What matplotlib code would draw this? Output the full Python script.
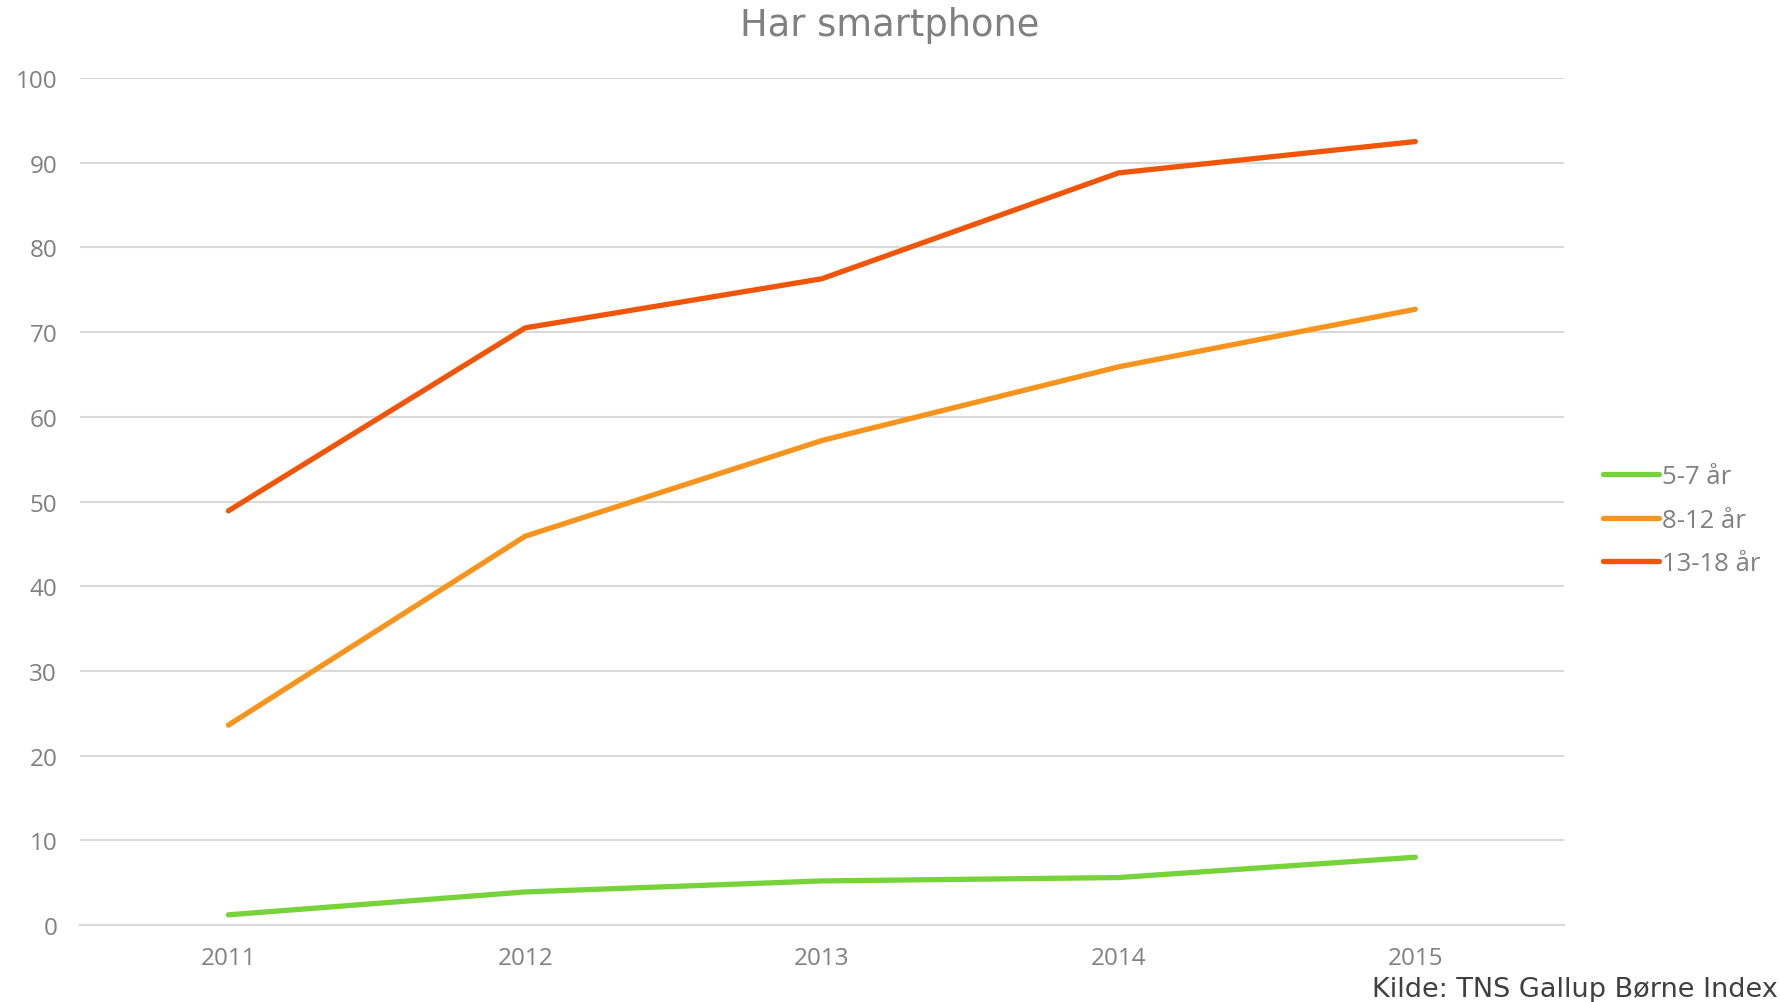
import matplotlib
matplotlib.use("Agg")
import matplotlib.pyplot as plt

years = ["2011", "2012", "2013", "2014", "2015"]
series_names = ["5-7 år", "8-12 år", "13-18 år"]
v_5_7 = [1.2, 3.9, 5.2, 5.6, 8.0]
v_8_12 = [23.6, 45.9, 57.2, 65.9, 72.7]
v_13_18 = [48.9, 70.5, 76.3, 88.8, 92.5]
colors = ["#77D33A", "#F7941D", "#F0560A"]
yticks = [0, 10, 20, 30, 40, 50, 60, 70, 80, 90, 100]

fig = plt.figure(figsize=(17.8, 10.03), dpi=100)
ax = fig.add_axes([0.045, 0.0768, 0.8335, 0.8444])

x = list(range(len(years)))
for vals, name, c in zip([v_5_7, v_8_12, v_13_18], series_names, colors):
    ax.plot(x, vals, color=c, lw=3.8, solid_capstyle="round", solid_joinstyle="round", label=name)

ax.set_xlim(-0.5, len(years) - 0.5)
ax.set_ylim(0, 100)
ax.set_yticks(yticks)
ax.set_xticks(x)
ax.set_xticklabels(years)
ax.grid(axis="y", color="#D9D9D9", lw=1.5)
ax.set_axisbelow(True)
for s in ["top", "right", "left"]:
    ax.spines[s].set_visible(False)
ax.spines["bottom"].set_color("#D9D9D9")
ax.spines["bottom"].set_linewidth(1.5)
ax.tick_params(length=0, labelsize=17.5, labelcolor="#808080")
for lab in ax.get_xticklabels() + ax.get_yticklabels():
    lab.set_family("Open Sans")
ax.tick_params(axis="y", pad=16.5)
ax.tick_params(axis="x", pad=15)

fig.text(0.5, 0.964, "Har smartphone", ha="center", va="baseline", fontsize=26.5,
         color="#808080", family="DejaVu Sans")
fig.text(0.999, 0.006, "Kilde: TNS Gallup Børne Index", ha="right", va="baseline",
         fontsize=19.5, color="#404040", family="DejaVu Sans")

leg = ax.legend(loc="center left", bbox_to_anchor=(1.0263, 0.478), frameon=False,
                borderaxespad=0, borderpad=0,
                prop={"family": "Open Sans", "size": 18.5}, handlelength=2.2,
                handletextpad=0.1, labelspacing=0.72)
for t in leg.get_texts():
    t.set_color("#808080")

fig.savefig("out.png", dpi=100)
